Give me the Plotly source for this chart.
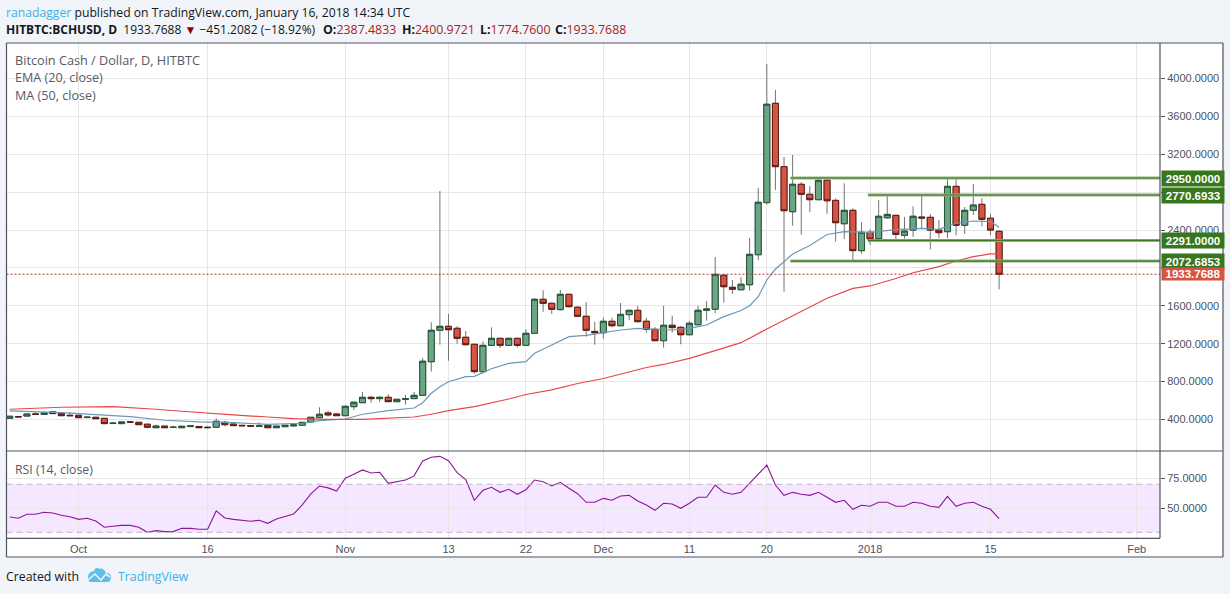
import pandas as pd
import plotly.graph_objects as go
from plotly.subplots import make_subplots

start_date = "2017-09-23"
opens = [413,430,436,458,454,480,465,444,444,420,
 423,412,357,356,375,370,350,313,330,315,
 313,325,326,318,318,370,352,338,335,328,
 339,313,324,332,339,374,419,469,458,440,
 535,577,634,620,634,588,613,620,655,1010,
 1342,1384,1363,1268,1194,905,1183,1257,1183,1257,
 1183,1310,1669,1627,1560,1722,1585,1490,1330,1316,
 1437,1390,1507,1553,1437,1352,1232,1395,1373,1295,
 1400,1553,1564,1923,1796,1770,1823,2140,2690,3739,
 3070,2594,2884,2778,2721,2926,2714,2467,2609,2183,
 2377,2310,2530,2556,2345,2400,2538,2535,2400,2383,
 2862,2451,2609,2672,2525,2387.4833]
closes = [434,428,458,454,468,462,440,440,419,424,
 408,356,361,374,373,345,318,331,313,318,
 328,332,313,314,381,345,335,334,330,331,
 313,330,339,342,370,423,455,448,440,539,
 582,634,620,634,588,613,620,655,1015,1342,
 1384,1348,1257,1190,905,1183,1257,1183,1257,1183,
 1310,1669,1627,1564,1722,1591,1490,1342,1316,1437,
 1390,1510,1553,1433,1352,1232,1395,1370,1295,1416,
 1553,1567,1933,1802,1775,1828,2144,2694,3729,3070,
 2605,2884,2778,2721,2926,2710,2478,2609,2183,2377,
 2306,2546,2566,2355,2390,2546,2528,2400,2373,2862,
 2451,2609,2665,2514,2400,1933.7688]
highs = [438,434,462,478,482,485,470,476,448,430,
 425,414,375,378,378,372,352,345,332,335,
 330,340,328,325,412,385,355,340,338,370,
 340,332,342,350,372,426,529,493,462,547,
 590,690,650,645,665,620,660,690,1050,1426,
 2813,1514,1384,1334,1200,1226,1373,1262,1262,1262,
 1352,1683,1764,1632,1768,1728,1600,1640,1430,1475,
 1475,1630,1553,1600,1475,1375,1600,1496,1385,1437,
 1600,1650,2116,1935,1873,1902,2317,2845,4154,3880,
 3172,3193,2908,2866,2940,2935,2735,2894,2630,2482,
 2410,2718,2771,2560,2538,2651,2771,2570,2507,2958,
 2958,2644,2886,2736,2570,2400.9721]
lows = [411,425,434,452,452,460,438,438,417,418,
 405,354,355,354,371,343,305,312,311,312,
 311,323,311,312,315,327,333,332,328,326,
 311,311,322,330,337,372,417,430,438,438,
 500,575,577,582,586,586,557,618,653,905,
 1190,1021,1200,1180,884,884,1181,1154,1181,1160,
 1181,1308,1538,1514,1550,1585,1480,1275,1190,1253,
 1375,1388,1450,1425,1317,1230,1158,1317,1194,1290,
 1395,1443,1520,1633,1725,1768,1760,2084,2668,2824,
 1750,2446,2352,2591,2715,2573,2278,2306,2080,2150,
 2243,2305,2520,2303,2310,2330,2412,2197,2315,2315,
 2345,2360,2560,2440,2345,1774.7600]

ema_days = [0,6,10,14,18,22,26,30,34,36,39,41,44,47,48,49,50,51,53,54,56,58,60,61,63,65,67,69,71,73,75,77,79,81,83,85,86,87,88,89,90,91,93,95,97,100,103,106,108,110,112,114,115]
ema_vals = [490,472,451,430,392,374,366,349,360,387,405,455,493,521,577,677,746,799,852,856,936,993,1010,1099,1187,1274,1289,1317,1345,1363,1352,1345,1363,1398,1486,1551,1602,1697,1873,1989,2066,2148,2237,2354,2383,2375,2406,2419,2408,2472,2496,2489,2430]
ma_days = [0,3,6,12,14,17,20,23,26,30,33,37,41,47,49,51,54,58,60,63,66,69,72,74,76,79,82,85,88,90,92,95,98,100,103,105,108,110,112,114,115]
ma_vals = [508,518,529,535,525,508,487,465,448,426,408,402,402,426,455,493,535,616,664,712,780,833,907,949,981,1046,1127,1211,1356,1451,1538,1680,1785,1810,1889,1950,2014,2074,2119,2148,2148]
rsi_vals = [42.8,41.7,45,45,46.7,46.1,44.2,43,40.8,41.7,
 39.4,34.2,35,35.8,35.8,34.2,30,31.4,30.6,30.6,
 33.3,33.3,32.5,32.5,47.8,41.9,40.8,40,39.2,40,
 37.5,41.1,43.3,45.3,52.8,62,68.6,67,64.4,75,
 78.3,82,79.4,80,70.8,72.2,73.6,77,89.4,92.5,
 93.3,89.7,79.7,74,56.7,65,67.5,63.3,65.8,61.7,
 65.5,73.6,72.2,68.6,71.7,66.7,62.2,55,55,58.3,
 56.7,60.3,60.8,56.1,52.8,48.3,54.2,53.6,50,54.2,
 59.2,59.2,69.4,63.3,61.7,63.3,70.8,77.8,86,69.4,
 60.8,63.3,61.7,60.8,63.3,59.2,55,56.7,49.2,52.5,
 51.7,55,55,51.7,51.7,55,54.2,51.7,50.8,60,
 51.7,54.2,55,51.7,49.2,41.4]

level_vals = [2950.0, 2770.6933, 2291.0, 2072.6853]
level_start_days = [91, 100, 100, 91]
last_price = 1933.7688

price_ticks = [400,800,1200,1600,2000,2400,2800,3200,3600,4000]
hidden_price_labels = [2000, 2800]   # covered by the level tags in the picture
rsi_ticks = [50,75]
time_tick_dates = ["2017-10-01","2017-10-16","2017-11-01","2017-11-13","2017-11-22","2017-12-01","2017-12-11","2017-12-20","2018-01-01","2018-01-15","2018-02-01"]
time_tick_text = ["Oct","16","Nov","13","22","Dec","11","20","2018","15","Feb"]
ohlc_names = ["O:", "H:", "L:", "C:"]
ohlc_texts = ["2387.4833", "2400.9721", "1774.7600", "1933.7688"]

W, H = 1230, 594
L, R, T, SEP, RB, B, FR = 6.5, 1160, 43, 451, 538.3, 557, 1223
px = lambda x: x / W
py = lambda y: 1 - y / H

dates = pd.date_range(start_date, periods=len(opens))
x_start = dates[0] + pd.Timedelta(hours=-9)
x_end = dates[0] + pd.Timedelta(days=133.7)

UP, DOWN = "#6ba583", "#d75442"
UP_LINE, DOWN_LINE = "#225437", "#5b1a13"
WICK = "#737375"
GREEN = "#38761d"
GRID = "#e6e6e6"
TXT = "#4c525e"
FONT = "Liberation Sans"
HEAD = "Open Sans"
BLUE = "#3bb3e4"

fig = make_subplots(rows=2, cols=1, shared_xaxes=True)

fig.add_trace(go.Scatter(x=dates[ema_days], y=ema_vals, mode="lines", line=dict(color="#6c97b5", width=1.2)), 1, 1)
fig.add_trace(go.Scatter(x=dates[ma_days], y=ma_vals, mode="lines", line=dict(color="#e8474a", width=1.2)), 1, 1)
fig.add_trace(go.Scatter(x=[x_start, x_end], y=[last_price, last_price], mode="lines",
                         line=dict(color="#b03a32", width=1, dash="2px,2px")), 1, 1)

# wicks in grey, bodies with their own dark border on top
fig.add_trace(go.Candlestick(x=dates, open=opens, high=highs, low=lows, close=closes, whiskerwidth=0,
                             increasing=dict(line=dict(color=WICK, width=1), fillcolor=UP),
                             decreasing=dict(line=dict(color=WICK, width=1), fillcolor=DOWN)), 1, 1)
fig.add_trace(go.Candlestick(x=dates, open=opens, close=closes,
                             high=[max(a, b) for a, b in zip(opens, closes)],
                             low=[min(a, b) for a, b in zip(opens, closes)], whiskerwidth=0,
                             increasing=dict(line=dict(color=UP_LINE, width=1), fillcolor=UP),
                             decreasing=dict(line=dict(color=DOWN_LINE, width=1), fillcolor=DOWN)), 1, 1)

for val, day in zip(level_vals, level_start_days):
    xs = [dates[day] - pd.Timedelta(hours=6), x_end]
    fig.add_trace(go.Scatter(x=xs, y=[val, val], mode="lines", line=dict(color="#8fb37c", width=3)), 1, 1)
    fig.add_trace(go.Scatter(x=xs, y=[val, val], mode="lines", line=dict(color="#3f7a22", width=1.2)), 1, 1)

fig.add_trace(go.Scatter(x=dates, y=rsi_vals, mode="lines", line=dict(color="#8e1599", width=1.1)), 2, 1)
for lvl in (70, 30):
    fig.add_trace(go.Scatter(x=[x_start, x_end], y=[lvl, lvl], mode="lines",
                             line=dict(color="#c3b2cc", width=1, dash="6px,4px")), 2, 1)

shapes = [
    dict(type="rect", xref="paper", yref="paper", x0=px(L), x1=px(FR), y0=py(B), y1=py(T),
         fillcolor="white", line=dict(width=0), layer="below"),
    dict(type="rect", xref="paper", yref="y2", x0=px(L), x1=px(R), y0=30, y1=70,
         fillcolor="rgba(153,21,255,0.10)", line=dict(width=0), layer="below"),
]
FRAME = "#50535e"
for x0, y0, x1, y1 in [(L, T, FR, T), (L, B, FR, B), (L, T, L, B), (FR, T, FR, B),
                       (L, SEP, FR, SEP), (L, RB, R, RB), (R, T, R, RB)]:
    shapes.append(dict(type="line", xref="paper", yref="paper", x0=px(x0), x1=px(x1),
                       y0=py(y0), y1=py(y1), line=dict(color=FRAME, width=1.2), layer="above"))

# TradingView cloud mark
def path(cmds):
    out = []
    for c in cmds:
        if len(c) == 1:
            out.append(c[0])
        else:
            vals = []
            for i in range(1, len(c), 2):
                vals.append(f"{px(c[i]):.5f},{py(c[i + 1]):.5f}")
            out.append(c[0] + " " + " ".join(vals))
    return " ".join(out)

cloud = [("M", 91, 582), ("L", 107, 582), ("Q", 111, 582, 111, 577), ("Q", 111, 573, 106, 573),
         ("Q", 103, 567, 99, 569), ("Q", 96, 566, 94, 571), ("Q", 88, 572, 88, 577), ("Q", 88, 582, 91, 582), ("Z",)]
zig = [("M", 88, 580), ("L", 95, 574), ("L", 101, 580), ("L", 106, 574), ("L", 110, 577)]
shapes.append(dict(type="path", xref="paper", yref="paper", path=path(cloud), fillcolor="#5bbfe8", line=dict(width=0)))
shapes.append(dict(type="path", xref="paper", yref="paper", path=path(zig), fillcolor="rgba(0,0,0,0)",
                   line=dict(color="#f1f4f8", width=1.6)))

def note(x, y, text, size=12, color="#131722", family=HEAD):
    return dict(xref="paper", yref="paper", x=px(x), y=py(y), xanchor="left", yanchor="middle",
                showarrow=False, text=text, align="left", font=dict(size=size, color=color, family=family))

RED_T = "#b0201c"
GREY_T = "#555a63"
annotations = [
    note(4, 12, f'<span style="color:{BLUE}">ranadagger</span> published on TradingView.com, January 16, 2018 14:34 UTC', size=12.2),
    note(4, 30, '<b>HITBTC:BCHUSD, D</b>  1933.7688 <span style="color:#8b0000">▼</span> −451.2082 (−18.92%)'),
    note(13, 60, "Bitcoin Cash / Dollar, D, HITBTC", size=12.7, color=GREY_T),
    note(13, 77, "EMA (20, close)", size=12.6, color=GREY_T),
    note(13, 95, "MA (50, close)", size=12.6, color=GREY_T),
    note(13, 469, "RSI (14, close)", size=12.3, color=GREY_T),
    note(4, 576, "Created with", size=12.3, color="#131722"),
    note(116, 576, "TradingView", size=12.3, color=BLUE),
]
for x_pos, name, txt in zip([321, 400, 478, 553], ohlc_names, ohlc_texts):
    annotations.append(note(x_pos, 30, f'<b>{name}</b><span style="color:{RED_T}">{txt}</span>', size=12.4))
for val in level_vals:
    annotations.append(dict(xref="paper", yref="y", x=px(R + 1), y=val, xanchor="left", yanchor="middle",
                            showarrow=False, text=f"<b>{val:.4f}</b>", width=62, height=15, align="center",
                            bgcolor=GREEN, borderpad=0, font=dict(size=11.5, color="white", family=FONT)))
annotations.append(dict(xref="paper", yref="y", x=px(R + 1), y=last_price, xanchor="left", yanchor="middle",
                        showarrow=False, text=f"<b>{last_price:.4f}</b>", width=62, height=12, align="center",
                        bgcolor=DOWN, borderpad=0, font=dict(size=11.5, color="white", family=FONT)))

fig.update_layout(
    width=W, height=H, autosize=False, margin=dict(l=0, r=0, t=0, b=0),
    paper_bgcolor="#f1f4f8", plot_bgcolor="white", showlegend=False,
    boxgap=0.3, boxgroupgap=0, boxmode="overlay",
    shapes=shapes, annotations=annotations, font=dict(family=FONT, color=TXT, size=11),
    xaxis=dict(domain=[px(L), px(R)], range=[x_start, x_end], rangeslider=dict(visible=False),
               showticklabels=False, tickvals=time_tick_dates, showgrid=True, gridcolor=GRID, gridwidth=1,
               zeroline=False, ticks=""),
    xaxis2=dict(domain=[px(L), px(R)], range=[x_start, x_end], rangeslider=dict(visible=False),
                tickvals=time_tick_dates, ticktext=time_tick_text, showgrid=True, gridcolor=GRID, gridwidth=1,
                zeroline=False, ticks="", tickfont=dict(size=11, color=TXT), ticklabelstandoff=3),
    yaxis=dict(domain=[py(SEP), py(T)], range=[67, 4376], side="right", tickvals=price_ticks,
               ticktext=["" if v in hidden_price_labels else f"{v:.4f}" for v in price_ticks],
               showgrid=True, gridcolor=GRID, gridwidth=1,
               zeroline=False, ticks="outside", ticklen=4, tickcolor=FRAME, tickfont=dict(size=11, color=TXT)),
    yaxis2=dict(domain=[py(RB), py(SEP)], range=[25, 97.75], side="right", tickvals=rsi_ticks,
                ticktext=[f"{v:.4f}" for v in rsi_ticks], showgrid=True, gridcolor=GRID, gridwidth=1,
                zeroline=False, ticks="outside", ticklen=4, tickcolor=FRAME, tickfont=dict(size=11, color=TXT)),
)

fig.write_html("out.html", post_script="document.body.style.margin='0';", config=dict(displayModeBar=False))
